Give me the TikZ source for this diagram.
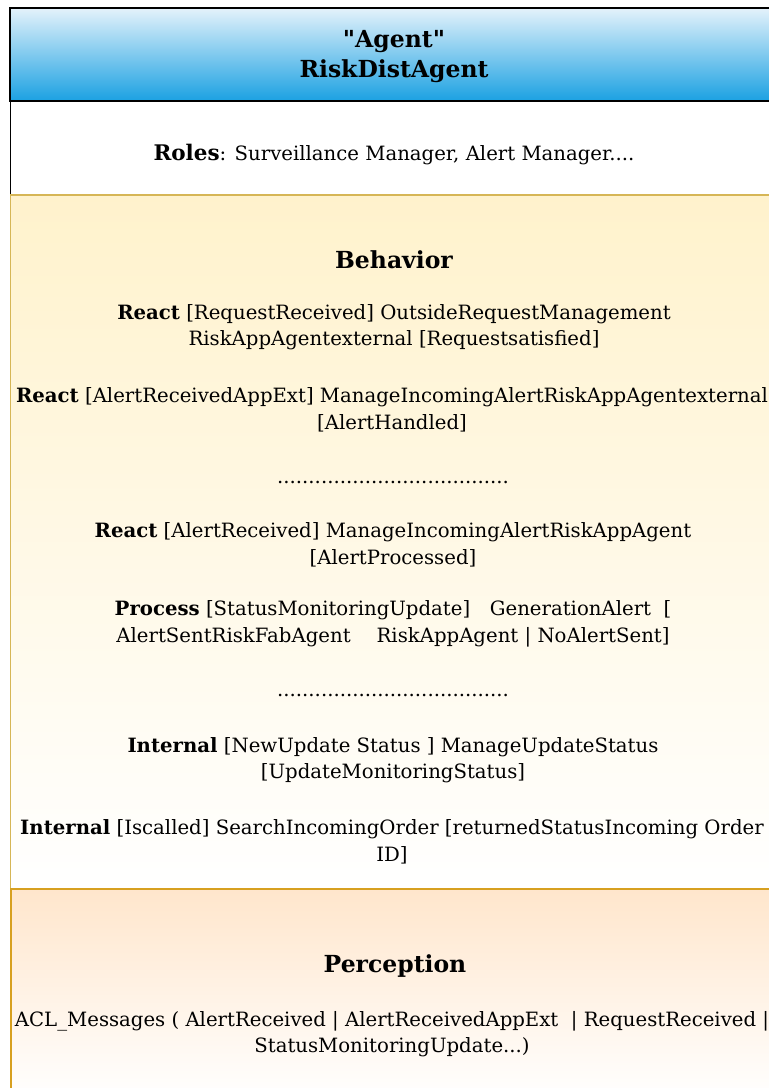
\documentclass[tikz,border=0pt]{standalone}
\usepackage{fontspec}
\setmainfont{DejaVu Serif}
\definecolor{hdrtop}{HTML}{E4F2FB}
\definecolor{hdrbot}{HTML}{1BA1E2}
\definecolor{behtop}{HTML}{FFF2CC}
\definecolor{behline}{HTML}{D6B656}
\definecolor{pertop}{HTML}{FFE6CC}
\definecolor{perline}{HTML}{D7A020}
\tikzset{
  body/.style={font=\fontsize{19.7}{26.5}\selectfont, align=center, inner sep=0pt, text=black},
  title/.style={font=\fontsize{23.5}{30}\selectfont\bfseries, align=center, inner sep=0pt, text=black},
}
\begin{document}
\begin{tikzpicture}[x=1pt,y=-1pt]
\useasboundingbox (0,0) rectangle (769,1088);
\clip (0,0) rectangle (769,1088);
\fill[white] (0,0) rectangle (769,1088);

% compartments of the agent class
\shade[top color=hdrtop, bottom color=hdrbot] (10,8) rectangle (778,101);
\draw[line width=1.5pt] (10,8) rectangle (778,101);
\draw[line width=1pt, fill=white] (10,101) rectangle (778,195);
\shade[top color=behtop, bottom color=white] (10,195) rectangle (778,888);
\draw[behline, line width=1pt] (10,195) rectangle (778,888);
\draw[behline, line width=2pt] (10,195) -- (778,195);
\shade[top color=pertop, bottom color=white] (11,889) rectangle (778,1100);
\draw[perline, line width=2pt] (11,889) rectangle (778,1100);

% header
\node[title] (hdr) at (394,57) {\textquotedbl Agent\textquotedbl\\RiskDistAgent};

% roles
\node[body] (roles) at (394,155) {{\fontsize{21.5}{26}\selectfont\bfseries Roles}: Surveillance Manager, Alert Manager....};

% behaviour
\node[title] (beh) at (394,260) {Behavior};
\node[body] (r1) at (394,327) {\textbf{React} [RequestReceived] OutsideRequestManagement\\RiskAppAgentexternal [Requestsatisfied]};
\node[body] (r2) at (392,410) {\textbf{React} [AlertReceivedAppExt] ManageIncomingAlertRiskAppAgentexternal\\[0pt][AlertHandled]};
\node[body] (d1) at (393,482) {.....................................};
\node[body] (r3) at (393,545) {\textbf{React} [AlertReceived] ManageIncomingAlertRiskAppAgent\\[0pt][AlertProcessed]};
\node[body] (p1) at (393,624) {\textbf{Process} [StatusMonitoringUpdate]\quad GenerationAlert\ \ [\\AlertSentRiskFabAgent\quad\ RiskAppAgent | NoAlertSent]};
\node[body] (d2) at (393,695) {.....................................};
\node[body] (i1) at (393,760) {\textbf{Internal} [NewUpdate Status ] ManageUpdateStatus\\[0pt][UpdateMonitoringStatus]};
\node[body] (i2) at (392,842) {\textbf{Internal} [Iscalled] SearchIncomingOrder [returnedStatusIncoming Order\\ID]};

% perception
\node[title] (per) at (395,966) {Perception};
\node[body] (acl) at (392,1034) {ACL\_Messages ( AlertReceived | AlertReceivedAppExt\ \ | RequestReceived |\\StatusMonitoringUpdate...)};
\end{tikzpicture}
\end{document}
